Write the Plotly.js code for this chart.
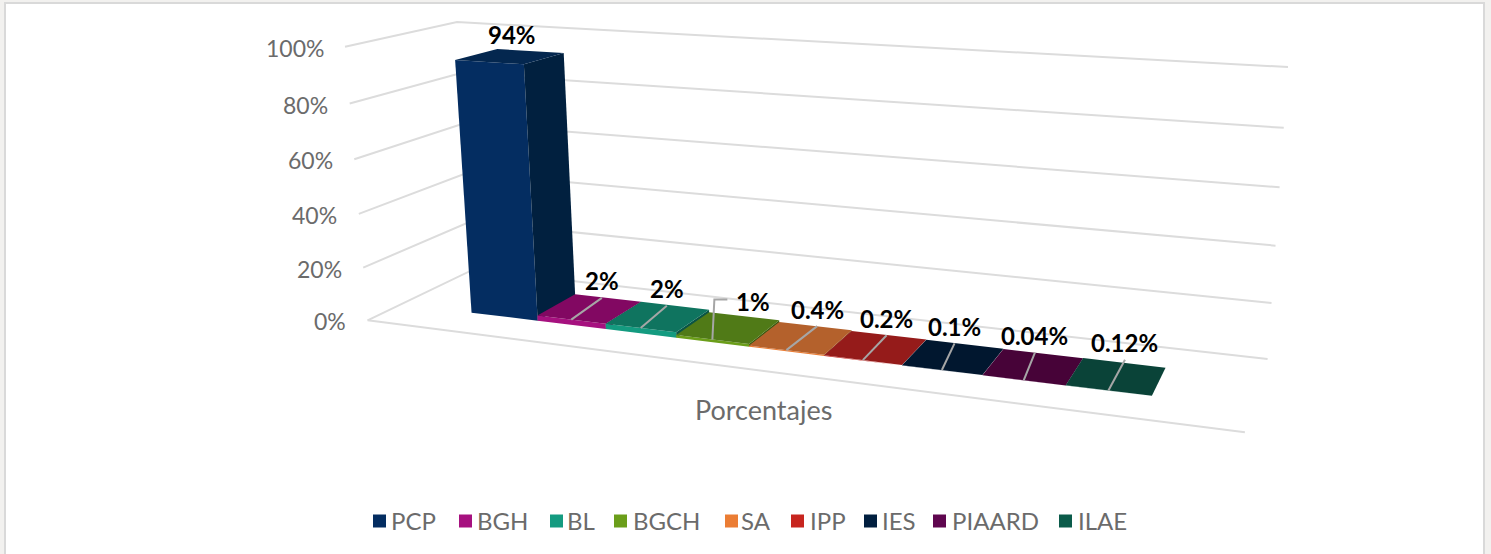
<!DOCTYPE html>
<html><head><meta charset="utf-8">
<script src="https://cdn.plot.ly/plotly-3.0.1.min.js"></script>
<style>html,body{margin:0;padding:0;background:#f2f1ef;overflow:hidden}#c{width:1491px;height:554px}</style>
</head><body><div id="c"></div>
<script>
// ---- data ----
const categories = ["PCP","BGH","BL","BGCH","SA","IPP","IES","PIAARD","ILAE"];
const values = [94,2,2,1,0.4,0.2,0.1,0.04,0.12];
const valueLabels = ["94%","2%","2%","1%","0.4%","0.2%","0.1%","0.04%","0.12%"];
const yTicks = [0,20,40,60,80,100];
const yTickLabels = ["0%","20%","40%","60%","80%","100%"];
const axisCategory = "Porcentajes";
// ---- styles ----
const frontColors = ["#042D61","#A6117F","#149B80","#6B9E1A","#EB7D34","#C7251F","#011F3F","#5F064F","#0B5B4A"];
const topColors   = ["#04274F","#820862","#0F745F","#507A17","#B4612C","#951B1A","#01172F","#470338","#0A4338"];
const sideColors  = ["#01203F","#5E0548","#0A5445","#3A5910","#834720","#6C1313","#001022","#330228","#072F27"];
const FONT = "Lato, 'Open Sans', sans-serif";
// ---- 3D view: (along category axis 0..1, value/100, depth 0..1) -> page pixel ----
const viewAnchors = [
  [0,0,0, 367.5,320.5],[1,0,0, 1245,432],[1,0,1, 1267.5,359.5],[0,0,1, 473,269.5],
  [0,1,0, 345,47],[0,1,1, 457,22],[1,1,1, 1288,67]
];
function solveView(){
  const A=[],B=[];
  viewAnchors.forEach(([X,Y,Z,px,py])=>{
    const x=px/1000,y=py/1000;
    A.push([X,Y,Z,1,0,0,0,0,-x*X,-x*Y,-x*Z]);B.push(x);
    A.push([0,0,0,0,X,Y,Z,1,-y*X,-y*Y,-y*Z]);B.push(y);
  });
  const n=11,M=[];
  for(let r=0;r<n;r++){const row=[];
    for(let c=0;c<n;c++){let s=(r===c?1e-10:0);A.forEach(a=>s+=a[r]*a[c]);row.push(s);}
    let s=0;A.forEach((a,k)=>s+=a[r]*B[k]);row.push(s);M.push(row);}
  for(let i=0;i<n;i++){let p=i;for(let r=i+1;r<n;r++)if(Math.abs(M[r][i])>Math.abs(M[p][i]))p=r;
    [M[i],M[p]]=[M[p],M[i]];
    for(let r=0;r<n;r++)if(r!==i){const f=M[r][i]/M[i][i];for(let c=i;c<=n;c++)M[r][c]-=f*M[i][c];}}
  return M.map((r,i)=>r[n]/r[i]);
}
const P=solveView();
function proj(u,v,w){
  const Y=v/100,h=P[8]*u+P[9]*Y+P[10]*w+1;
  return [1000*(P[0]*u+P[1]*Y+P[2]*w+P[3])/h,1000*(P[4]*u+P[5]*Y+P[6]*w+P[7])/h];
}
const U0=0.0975,U1=0.9,W0=0.3,W1=0.7;
const traces=[];
function poly(pts,opts){
  const q=pts.map(p=>proj(p[0],p[1],p[2]));
  traces.push(Object.assign({type:"scatter",x:q.map(p=>p[0]),y:q.map(p=>p[1]),mode:"lines",
    hoverinfo:"skip",showlegend:false},opts));
}
function line(pts,color,w){poly(pts,{line:{color:color,width:w}});}
// gridlines
yTicks.forEach(t=>line([[0,t,0],[0,t,1],[1,t,1]],"#dcdcdc",2));
line([[0,0,0],[1,0,0]],"#dcdcdc",2);
// bars
const bw=(U1-U0)/categories.length;
categories.forEach((c,i)=>{
  const a=U0+i*bw,b=a+bw,v=values[i];
  const face=col=>({fill:"toself",fillcolor:col,line:{width:0,color:col}});
  poly([[a,0,W0],[b,0,W0],[b,v,W0],[a,v,W0],[a,0,W0]],face(frontColors[i]));
  poly([[b,0,W0],[b,0,W1],[b,v,W1],[b,v,W0],[b,0,W0]],face(sideColors[i]));
  poly([[a,v,W0],[b,v,W0],[b,v,W1],[a,v,W1],[a,v,W0]],face(topColors[i]));
});
// leader lines and value labels
const leaderShift=[[0,0],[-6,0],[-8,0],[0,0],[2,0],[-2,0],[-10,-1],[-8,-1],[1,-3]];
const anns=[];
categories.forEach((c,i)=>{
  const m=U0+(i+.5)*bw,v=values[i];
  const s=proj(m,v,W0),e0=proj(m,v,W1);
  const e=[e0[0]+leaderShift[i][0],e0[1]+leaderShift[i][1]];
  const lineOpts={type:"scatter",mode:"lines",hoverinfo:"skip",showlegend:false,line:{color:"#a6a6a6",width:2}};
  let lx=e[0],ly=e[1]-17;
  if(i===0){lx=e[0]-18;}
  else if(c==="BGCH"){
    traces.push(Object.assign({x:[s[0],s[0]+2,s[0]+15],y:[s[1],s[1]-40,s[1]-40]},lineOpts));
    lx=s[0]+41;ly=s[1]-38;
  } else traces.push(Object.assign({x:[s[0],e[0]],y:[s[1],e[1]]},lineOpts));
  anns.push({x:lx,y:ly,text:"<b>"+valueLabels[i]+"</b>",showarrow:false,
    xanchor:"center",yanchor:"middle",font:{family:FONT,size:24,color:"#000"}});
});
// tick labels
yTicks.forEach((t,i)=>{
  const p=proj(0,t,0);
  anns.push({x:p[0]-19.5,y:p[1]+1,text:yTickLabels[i],showarrow:false,xanchor:"right",yanchor:"middle",
    font:{family:FONT,size:23,color:"#6b6b6b"}});
});
anns.push({x:763,y:409.5,text:axisCategory,showarrow:false,xanchor:"center",yanchor:"middle",
  font:{family:FONT,size:27,color:"#6b6b6b"}});
// legend row
const legendSwatchX=[379.5,465.5,556.5,620.5,731.5,797.5,870.5,939.5,1065.5];
const legendTextX=[389,475,565,630.5,738.5,808,880,949.5,1075.5];
categories.forEach((c,i)=>{
  traces.push({type:"scatter",mode:"markers",name:c,x:[legendSwatchX[i]],y:[521],showlegend:false,
    marker:{symbol:"square",size:13,color:frontColors[i]},hoverinfo:"skip"});
  anns.push({x:legendTextX[i],y:520.5,text:c,showarrow:false,xanchor:"left",yanchor:"middle",
    font:{family:FONT,size:24,color:"#6b6b6b"}});
});

Plotly.newPlot("c",traces,{
  width:1491,height:554,margin:{l:0,r:0,t:0,b:0},
  paper_bgcolor:"#f2f1ef",plot_bgcolor:"rgba(0,0,0,0)",
  xaxis:{range:[0,1491],visible:false,fixedrange:true},
  yaxis:{range:[554,0],visible:false,fixedrange:true},
  shapes:[{type:"rect",layer:"below",xref:"x",yref:"y",x0:5,x1:1484,y0:3,y1:560,fillcolor:"#fff",line:{color:"#d9d9d9",width:2}}],
  annotations:anns,
  showlegend:false,hovermode:false
},{displayModeBar:false,staticPlot:true});
</script></body></html>
